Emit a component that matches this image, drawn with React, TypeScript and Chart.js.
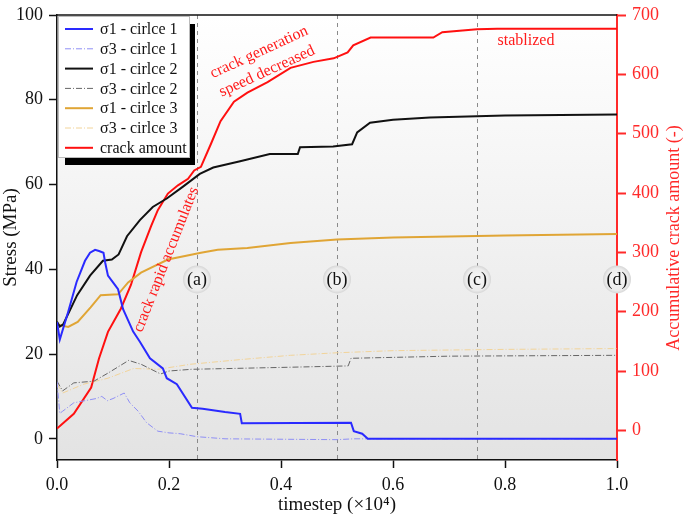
import React, { useEffect, useRef } from "react";
import { Chart, registerables } from "chart.js";

Chart.register(...registerables);

const SERIF = "'Liberation Serif', 'Times New Roman', serif";

// Tick values
const xTicks = [0, 0.2, 0.4, 0.6, 0.8, 1.0];
const stressTicks = [0, 20, 40, 60, 80, 100];
const crackTicks = [0, 100, 200, 300, 400, 500, 600, 700];

// σ1 - circle 1
const s1c1X = [0, 0.005, 0.02, 0.035, 0.05, 0.059, 0.068, 0.075, 0.083, 0.086, 0.091, 0.104, 0.109, 0.118, 0.136, 0.148, 0.166, 0.189, 0.196, 0.214, 0.241, 0.26, 0.3, 0.327, 0.33, 0.525, 0.53, 0.545, 0.555, 1.0];
const s1c1Y = [27.5, 23.4, 30, 37, 42, 43.9, 44.6, 44.3, 43.9, 41.6, 38.5, 36.2, 35.3, 30.6, 25.3, 22.9, 19, 16.6, 14.3, 12.9, 7.3, 7.1, 6.3, 5.9, 3.7, 3.8, 1.8, 1.2, 0, 0];

// σ3 - circle 1
const s3c1X = [0, 0.005, 0.01, 0.03, 0.05, 0.07, 0.08, 0.09, 0.1, 0.12, 0.13, 0.145, 0.16, 0.18, 0.2, 0.22, 0.25, 0.3, 0.5, 0.53, 1.0];
const s3c1Y = [13.5, 6, 6.5, 8.5, 9, 9.5, 10, 9, 9.5, 10.8, 8.5, 6.5, 3.8, 1.8, 1.4, 1.2, 0.5, 0, -0.2, 0, 0];

// σ1 - circle 2
const s1c2X = [0, 0.005, 0.011, 0.036, 0.059, 0.082, 0.098, 0.11, 0.125, 0.148, 0.171, 0.196, 0.225, 0.255, 0.279, 0.327, 0.38, 0.43, 0.434, 0.493, 0.527, 0.536, 0.559, 0.6, 0.666, 0.8, 1.0];
const s1c2Y = [27.6, 26.5, 27, 33.9, 38.5, 42, 42.3, 43.5, 47.8, 51.6, 54.7, 56.7, 59.5, 62.5, 64, 65.5, 67.2, 67.2, 68.8, 69, 69.5, 72.3, 74.6, 75.3, 75.8, 76.3, 76.5];

// σ3 - circle 2
const s3c2X = [0, 0.01, 0.03, 0.066, 0.091, 0.128, 0.15, 0.185, 0.2, 0.24, 0.42, 0.52, 0.525, 0.7, 1.0];
const s3c2Y = [13.6, 11.3, 13.2, 13.6, 15.5, 18.5, 17.6, 15.3, 16, 16.4, 16.9, 17.2, 19, 19.5, 19.7];

// σ1 - circle 3
const s1c3X = [0, 0.02, 0.037, 0.06, 0.078, 0.109, 0.127, 0.15, 0.198, 0.257, 0.287, 0.34, 0.417, 0.5, 0.6, 0.8, 1.0];
const s1c3Y = [27, 26.4, 27.6, 31, 33.9, 34.1, 36.9, 39.2, 42.3, 43.9, 44.6, 45, 46.2, 47, 47.5, 48, 48.3];

// σ3 - circle 3
const s3c3X = [0, 0.01, 0.048, 0.091, 0.137, 0.18, 0.239, 0.328, 0.417, 0.5, 0.6, 0.8, 1.0];
const s3c3Y = [13, 10.8, 12.9, 14.3, 16.6, 16.4, 17.6, 18.7, 19.7, 20.3, 20.8, 21.1, 21.3];

// crack amount (right axis)
const crackX = [0, 0.03, 0.061, 0.075, 0.091, 0.114, 0.132, 0.15, 0.168, 0.18, 0.198, 0.216, 0.234, 0.245, 0.257, 0.275, 0.292, 0.316, 0.34, 0.376, 0.417, 0.458, 0.494, 0.519, 0.529, 0.56, 0.672, 0.688, 0.75, 0.786, 1.0];
const crackY = [3, 28, 72, 121, 166, 205, 245, 300, 344, 371, 399, 413, 424, 438, 444, 483, 521, 554, 569, 587, 611, 621, 627, 637, 649, 662, 662, 671, 676, 677, 677];

// stage markers
const guideX = [0.25, 0.5, 0.75];
const markerX = [0.25, 0.5, 0.75, 1.0];
const markerLabels = ["(a)", "(b)", "(c)", "(d)"];
const markerStress = 37.6;

// annotations (positions in data units of x / left axis)
const noteTexts = ["crack rapid accumulates", "crack generation", "speed decreased", "stablized"];
const noteX = [0.195, 0.361, 0.375, 0.8375];
const noteStress = [42.3, 91.2, 86.7, 94];
const noteAngle = [-68.5, -24.7, -24.7, 0];

const pts = (xs: number[], ys: number[]) => xs.map((x, i) => ({ x, y: ys[i] }));

const series = [
  { label: "σ1 - cirlce 1", xs: s1c1X, ys: s1c1Y, color: "#2a2aff", width: 2, dash: [] as number[], axis: "y" },
  { label: "σ3 - cirlce 1", xs: s3c1X, ys: s3c1Y, color: "#8f8ff5", width: 1, dash: [6, 2, 1, 2], axis: "y" },
  { label: "σ1 - cirlce 2", xs: s1c2X, ys: s1c2Y, color: "#111111", width: 2, dash: [] as number[], axis: "y" },
  { label: "σ3 - cirlce 2", xs: s3c2X, ys: s3c2Y, color: "#666666", width: 1, dash: [6, 2, 1, 2], axis: "y" },
  { label: "σ1 - cirlce 3", xs: s1c3X, ys: s1c3Y, color: "#e0a535", width: 2, dash: [] as number[], axis: "y" },
  { label: "σ3 - cirlce 3", xs: s3c3X, ys: s3c3Y, color: "#f2d49a", width: 1, dash: [6, 2, 1, 2], axis: "y" },
  { label: "crack amount", xs: crackX, ys: crackY, color: "#ff1010", width: 2, dash: [] as number[], axis: "y1" },
];

const RED = "#ff2a2a";

const decor = {
  id: "decor",
  beforeDraw(chart: any) {
    const { ctx, chartArea: a } = chart;
    const g = ctx.createLinearGradient(0, a.top, 0, a.bottom);
    g.addColorStop(0, "#ffffff");
    g.addColorStop(1, "#e3e3e3");
    ctx.save();
    ctx.fillStyle = g;
    ctx.fillRect(a.left, a.top, a.right - a.left, a.bottom - a.top);
    ctx.restore();
  },
  beforeDatasetsDraw(chart: any) {
    const { ctx, chartArea: a, scales } = chart;
    ctx.save();
    ctx.strokeStyle = "#8a8a8a";
    ctx.lineWidth = 1;
    ctx.setLineDash([4, 4]);
    guideX.forEach((v) => {
      const px = Math.round(scales.x.getPixelForValue(v)) + 0.5;
      ctx.beginPath();
      ctx.moveTo(px, a.top);
      ctx.lineTo(px, a.bottom);
      ctx.stroke();
    });
    ctx.restore();
  },
  afterDraw(chart: any) {
    const { ctx, chartArea: a, scales } = chart;
    ctx.save();
    // top frame
    ctx.strokeStyle = "#111";
    ctx.lineWidth = 1.5;
    ctx.beginPath();
    ctx.moveTo(a.left, a.top);
    ctx.lineTo(a.right, a.top);
    ctx.stroke();

    // annotations
    ctx.fillStyle = "#ff1a1a";
    ctx.font = `16px ${SERIF}`;
    ctx.textAlign = "center";
    ctx.textBaseline = "middle";
    noteTexts.forEach((t, i) => {
      const px = scales.x.getPixelForValue(noteX[i]);
      const py = scales.y.getPixelForValue(noteStress[i]);
      ctx.save();
      ctx.translate(px, py);
      ctx.rotate((noteAngle[i] * Math.PI) / 180);
      ctx.fillText(t, 0, 0);
      ctx.restore();
    });

    // stage markers
    markerX.forEach((v, i) => {
      const px = scales.x.getPixelForValue(v);
      const py = scales.y.getPixelForValue(markerStress);
      const rg = ctx.createRadialGradient(px, py, 2, px, py, 14);
      rg.addColorStop(0, "#f6f6f6");
      rg.addColorStop(0.75, "#ececec");
      rg.addColorStop(1, "#d6d6d6");
      ctx.fillStyle = rg;
      ctx.beginPath();
      ctx.arc(px, py, 14, 0, Math.PI * 2);
      ctx.fill();
      ctx.fillStyle = "#111";
      ctx.font = `18px ${SERIF}`;
      ctx.fillText(markerLabels[i], px, py + 1);
    });

    // legend
    const bx = a.left + 1;
    const by = a.top + 1;
    const bw = 132;
    const bh = 142;
    ctx.fillStyle = "#000";
    ctx.fillRect(bx + 7, by + 8, bw - 2, bh - 1);
    ctx.fillStyle = "#ffffff";
    ctx.fillRect(bx, by, bw, bh);
    ctx.strokeStyle = "#bbbbbb";
    ctx.lineWidth = 1;
    ctx.strokeRect(bx + 0.5, by + 0.5, bw - 1, bh - 1);
    ctx.font = `16px ${SERIF}`;
    ctx.textAlign = "left";
    ctx.textBaseline = "middle";
    series.forEach((s, i) => {
      const ry = by + 13 + i * 19.8;
      ctx.save();
      ctx.strokeStyle = s.color;
      ctx.lineWidth = s.width;
      ctx.setLineDash(s.dash);
      ctx.beginPath();
      ctx.moveTo(bx + 7, ry);
      ctx.lineTo(bx + 35, ry);
      ctx.stroke();
      ctx.restore();
      ctx.fillStyle = "#111";
      ctx.fillText(s.label, bx + 42, ry + 1);
    });

    // right axis title
    const r = scales.y1;
    ctx.save();
    ctx.translate(674, (a.top + a.bottom) / 2 + 0.5);
    ctx.rotate(-Math.PI / 2);
    ctx.fillStyle = RED;
    ctx.font = `18px ${SERIF}`;
    ctx.textAlign = "center";
    ctx.textBaseline = "middle";
    ctx.fillText("Accumulative crack amount (-)", 0, 0);
    ctx.restore();
    ctx.restore();
  },
};

export default function App() {
  const ref = useRef<HTMLCanvasElement | null>(null);
  useEffect(() => {
    document.body.style.margin = "0";
    const canvas = ref.current;
    if (!canvas) return;
    const chart = new Chart(canvas, {
      type: "line",
      data: {
        datasets: series.map((s) => ({
          label: s.label,
          data: pts(s.xs, s.ys),
          borderColor: s.color,
          backgroundColor: s.color,
          borderWidth: s.width,
          borderDash: s.dash,
          yAxisID: s.axis,
          pointRadius: 0,
          tension: 0,
          fill: false,
        })),
      },
      options: {
        responsive: false,
        animation: false,
        layout: { padding: { top: 9, left: 0, right: 0, bottom: 0 } },
        plugins: { legend: { display: false }, tooltip: { enabled: false } },
        scales: {
          x: {
            type: "linear",
            min: 0,
            max: 1,
            afterBuildTicks: (s: any) => {
              s.ticks = xTicks.map((v) => ({ value: v }));
            },
            afterFit: (s: any) => {
              s.height = 56;
            },
            ticks: {
              callback: (v: any) => Number(v).toFixed(1),
              font: { size: 18, family: SERIF },
              color: "#111",
              padding: 6,
              maxRotation: 0,
            },
            grid: { drawOnChartArea: false, tickLength: 8, tickColor: "#111", tickWidth: 1.5 },
            border: { color: "#111", width: 1.5 },
            title: {
              display: true,
              text: "timestep (×10⁴)",
              font: { size: 19, family: SERIF },
              color: "#111",
              padding: 0,
            },
          },
          y: {
            type: "linear",
            position: "left",
            min: -5,
            max: 100,
            afterBuildTicks: (s: any) => {
              s.ticks = stressTicks.map((v) => ({ value: v }));
            },
            afterFit: (s: any) => {
              s.width = 57;
            },
            ticks: {
              font: { size: 18, family: SERIF, lineHeight: 1 },
              color: "#111",
              padding: 6,
            },
            grid: { drawOnChartArea: false, tickLength: 8, tickColor: "#111", tickWidth: 1.5 },
            border: { color: "#111", width: 1.5 },
            title: {
              display: true,
              text: "Stress (MPa)",
              font: { size: 19, family: SERIF },
              color: "#111",
              padding: 0,
            },
          },
          y1: {
            type: "linear",
            position: "right",
            min: -50,
            max: 700,
            afterBuildTicks: (s: any) => {
              s.ticks = crackTicks.map((v) => ({ value: v }));
            },
            afterFit: (s: any) => {
              s.width = 68;
            },
            ticks: {
              font: { size: 18, family: SERIF, lineHeight: 1 },
              color: RED,
              padding: 6,
            },
            grid: { drawOnChartArea: false, tickLength: 9, tickColor: RED, tickWidth: 2 },
            border: { color: RED, width: 2 },
          },
        },
      },
      plugins: [decor],
    });
    return () => chart.destroy();
  }, []);
  return <canvas ref={ref} width={685} height={516} style={{ display: "block" }} />;
}
